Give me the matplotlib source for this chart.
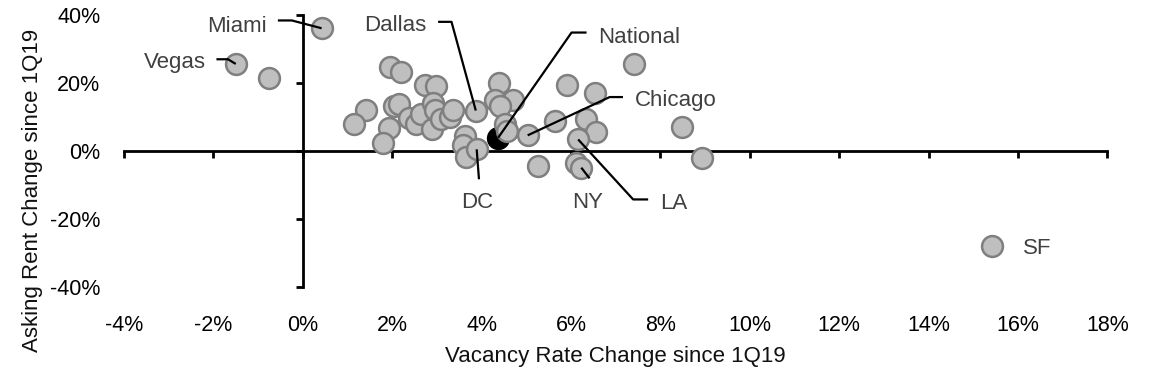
import matplotlib
matplotlib.use("Agg")
import matplotlib.pyplot as plt
from matplotlib.ticker import FuncFormatter
import numpy as np

plt.rcParams['font.family'] = ['Liberation Sans', 'DejaVu Sans']

# ---- data (percent) ----
vacancy_change = [0.42, -1.50, -0.75, 1.95, 2.20, 2.74, 2.98, 1.41, 1.15, 1.93,
                  1.80, 2.05, 2.15, 2.37, 2.53, 2.64, 2.88, 2.92, 2.95, 3.10,
                  3.29, 3.36, 3.87, 3.62, 3.59, 3.64, 3.89, 4.40, 4.31, 4.71,
                  4.42, 4.52, 4.56, 5.03, 5.26, 5.64, 5.90, 6.53, 6.33, 6.57,
                  6.16, 6.12, 6.23, 7.41, 8.48, 8.92, 15.41]
rent_change = [36.1, 25.6, 21.6, 24.6, 23.3, 19.5, 19.2, 12.0, 8.0, 6.8,
               2.3, 13.2, 13.8, 9.8, 8.0, 11.0, 6.6, 14.2, 12.2, 9.3,
               9.9, 12.2, 11.9, 4.4, 1.8, -1.7, 0.5, 20.0, 15.1, 15.1,
               13.2, 7.8, 5.8, 4.6, -4.5, 8.8, 19.5, 17.1, 9.5, 5.6,
               3.4, -3.4, -4.9, 25.6, 7.2, -2.1, -27.8]
point_names = ['Miami', 'Vegas', '', '', '', '', '', '', '', '',
               '', '', '', '', '', '', '', '', '', '',
               '', '', 'Dallas', '', '', '', 'DC', '', '', '',
               '', '', '', 'Chicago', '', '', '', '', '', '',
               'LA', '', 'NY', '', '', '', 'SF']
national_vacancy = 4.37
national_rent = 3.9

x_ticks = [-4, -2, 0, 2, 4, 6, 8, 10, 12, 14, 16, 18]
y_ticks = [-40, -20, 0, 20, 40]
x_title = "Vacancy Rate Change since 1Q19"
y_title = "Asking Rent Change since 1Q19"

# label layout: (text dx, text baseline dy, ha, leader vertices) in pixels, image y-down
label_layout = {
    'Miami':    (-55, 3.4, 'right', [(-43.7, -7.8), (-29.7, -7.8)]),
    'Vegas':    (-30, 3.7, 'right', [(-19.3, -4.7), (-7.7, -4.7)]),
    'Dallas':   (-49.3, -79.3, 'right', [(-37.7, -88.7), (-24.3, -88.7)]),
    'National': (100, -95.2, 'left', [(88.4, -105.2), (73.4, -105.2)]),
    'Chicago':  (107, -29.3, 'left', [(95.3, -38.3), (82, -38.3)]),
    'DC':       (1, 58.3, 'center', [(2.3, 30)]),
    'NY':       (6.6, 40, 'center', [(8.3, 10.7)]),
    'LA':       (81.7, 70, 'left', [(70, 60), (55, 60)]),
    'SF':       (31, 8.3, 'left', []),
}

W, H = 1152, 377
fig = plt.figure(figsize=(W / 100, H / 100), dpi=100)
ax = fig.add_axes([124 / W, 90 / H, 983.4 / W, 272 / H])
ax.set_xlim(-4, 18)
ax.set_ylim(-40, 40)

# spines crossing at zero
for s in ['top', 'right']:
    ax.spines[s].set_visible(False)
ax.spines['left'].set_position(('data', 0))
ax.spines['bottom'].set_position(('data', 0))
for s in ['left', 'bottom']:
    ax.spines[s].set_linewidth(2.0)
    ax.spines[s].set_color('black')
    ax.spines[s].set_zorder(2.5)
ax.set_xticks(x_ticks)
ax.set_yticks(y_ticks)
ax.tick_params(axis='both', direction='out', length=5, width=2.0, color='black',
               labelbottom=False, labelleft=False)

fmt = FuncFormatter(lambda v, p: f"{v:.0f}%")
secx = ax.secondary_xaxis('bottom')
secx.set_xticks(x_ticks)
secx.xaxis.set_major_formatter(fmt)
secx.spines['bottom'].set_visible(False)
secx.tick_params(length=0, pad=20, labelsize=15.5, labelcolor='black')
secy = ax.secondary_yaxis('left')
secy.set_yticks(y_ticks)
secy.yaxis.set_major_formatter(fmt)
secy.spines['left'].set_visible(False)
secy.tick_params(length=0, pad=17, labelsize=15.5, labelcolor='black')

ax.set_xlabel(x_title, fontsize=16, color='#111111')
ax.xaxis.set_label_coords(0.5, -0.217)
ax.set_ylabel(y_title, fontsize=16, color='#111111')
ax.yaxis.set_label_coords(-0.0827, 0.3566)

# points
ax.scatter([national_vacancy], [national_rent], s=225, color='black',
           edgecolors='black', linewidths=1.8, zorder=2.9, clip_on=False)
ax.scatter(vacancy_change, rent_change, s=225, color='#BFBFBF',
           edgecolors='#7F7F7F', linewidths=1.8, zorder=3, clip_on=False)

inv = ax.transData.inverted()

def label_point(name, x, y):
    dx, dyb, ha, verts = label_layout[name]
    ax.annotate(name, xy=(x, y), xytext=(dx, -dyb), textcoords='offset pixels',
                ha=ha, va='baseline', fontsize=16, color='#404040', zorder=5)
    if verts:
        p = ax.transData.transform((x, y))
        pts = [p + np.array([vx, -vy]) for vx, vy in verts] + [p]
        d = inv.transform(np.array(pts))
        ax.plot(d[:, 0], d[:, 1], color='black', lw=1.6, zorder=4,
                clip_on=False, solid_capstyle='butt')

for name, x, y in zip(point_names, vacancy_change, rent_change):
    if name:
        label_point(name, x, y)
label_point('National', national_vacancy, national_rent)

fig.savefig('out.png', dpi=100)
